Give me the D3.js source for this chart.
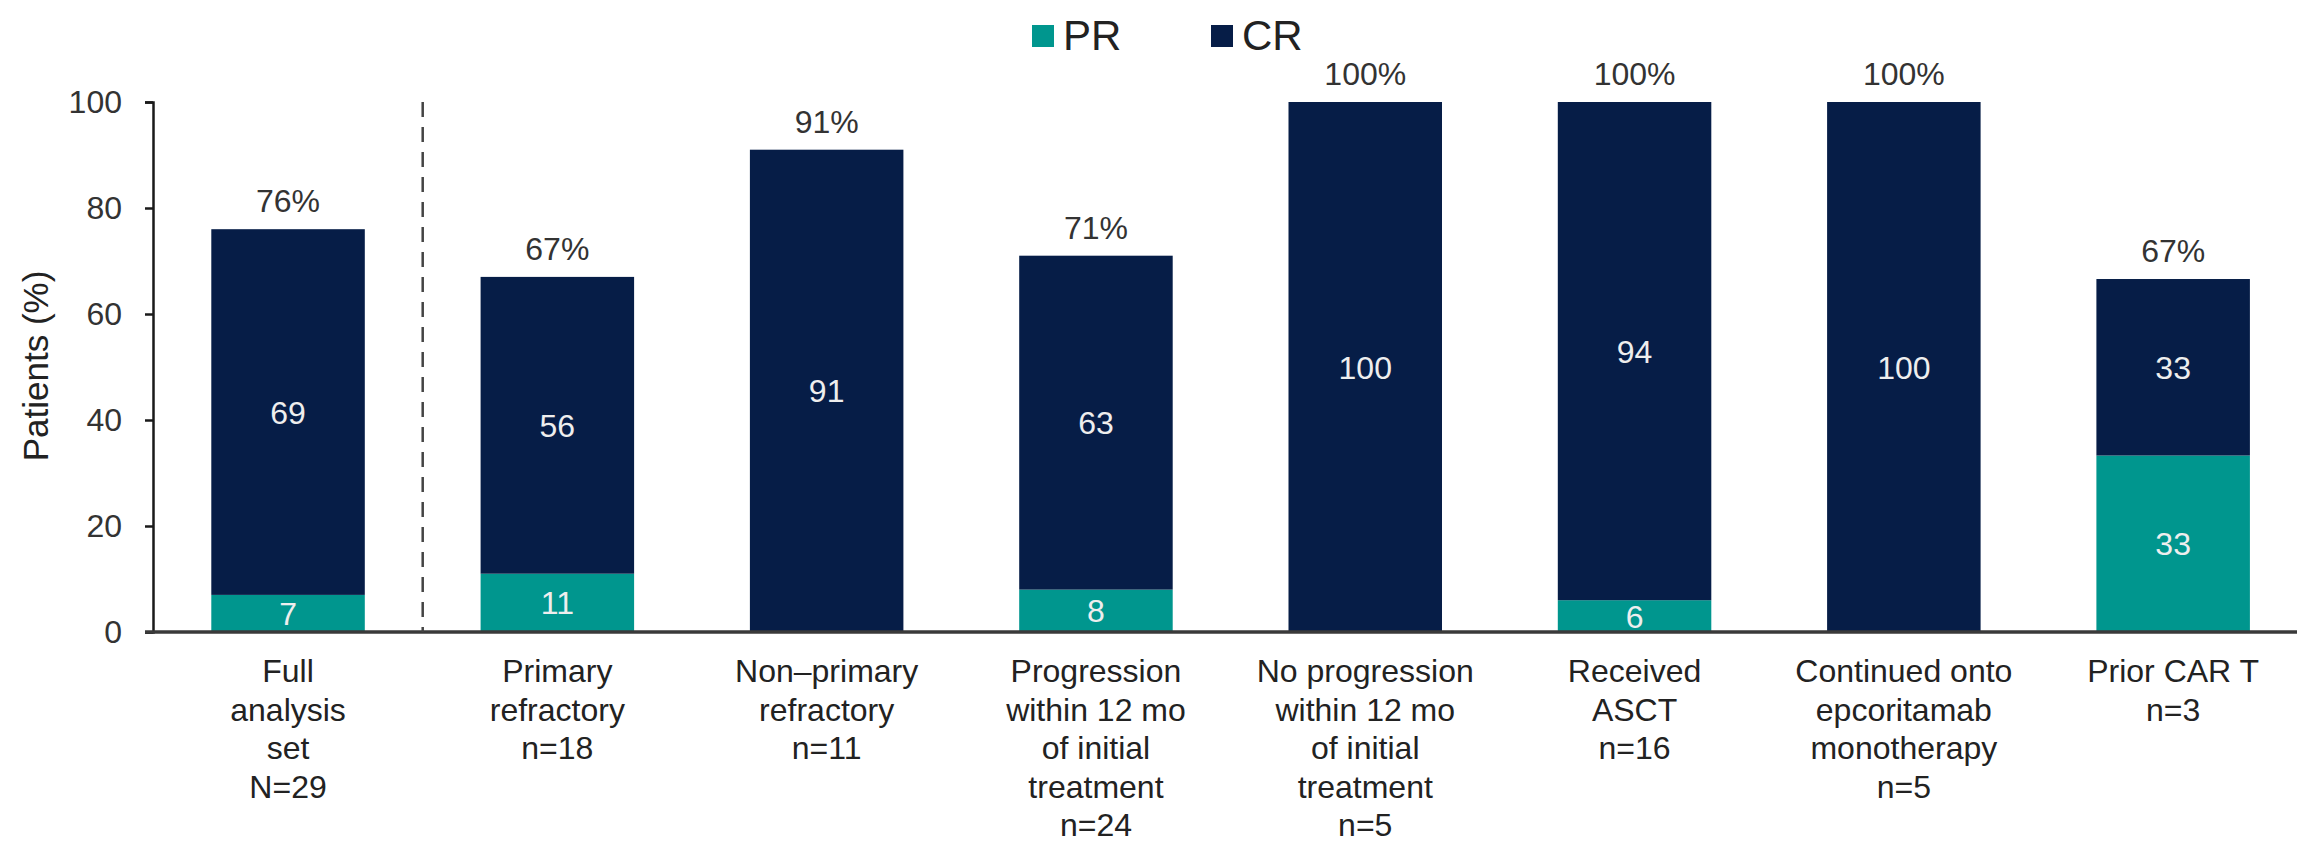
<!DOCTYPE html>
<html>
<head>
<meta charset="utf-8">
<script src="https://cdn.jsdelivr.net/npm/d3@7"></script>
<style>
  html, body { margin: 0; padding: 0; background: #ffffff; }
  svg { display: block; font-family: "Liberation Sans", Arial, sans-serif; }
</style>
</head>
<body>
<svg id="chart" width="2297" height="846"></svg>
<script>
// Response by subgroup: partial (PR) and complete (CR) response, % of patients
const categories = [
  "Full analysis set",
  "Primary refractory",
  "Non-primary refractory",
  "Progression within 12 mo",
  "No progression within 12 mo",
  "Received ASCT",
  "Continued onto epcoritamab",
  "Prior CAR T"
];
const categoryLines = [
  ["Full", "analysis", "set", "N=29"],
  ["Primary", "refractory", "n=18"],
  ["Non\u2013primary", "refractory", "n=11"],
  ["Progression", "within 12 mo", "of initial", "treatment", "n=24"],
  ["No progression", "within 12 mo", "of initial", "treatment", "n=5"],
  ["Received", "ASCT", "n=16"],
  ["Continued onto", "epcoritamab", "monotherapy", "n=5"],
  ["Prior CAR T", "n=3"]
];
const prValues = [7, 11, 0, 8, 0, 6, 0, 33.3];
const crValues = [69, 56, 91, 63, 100, 94, 100, 33.3];
const seriesNames = ["PR", "CR"];
const seriesColors = ["#00968e", "#061d47"];
const yTicks = [0, 20, 40, 60, 80, 100];

const svg = d3.select("#chart");
const fmt = d3.format(".0f");

const x = d3.scaleBand()
  .domain(categories)
  .range([153.4, 2307.8])
  .paddingInner(0.43)
  .paddingOuter(0.215);

const y = d3.scaleLinear().domain([0, 100]).range([632, 102]);

const rows = categories.map((c, i) => ({ cat: c, PR: prValues[i], CR: crValues[i] }));
const stacked = d3.stack().keys(seriesNames)(rows);

// Bars
const layer = svg.append("g").selectAll("g")
  .data(stacked)
  .join("g")
  .attr("fill", (d, i) => seriesColors[i]);

layer.selectAll("rect")
  .data(d => d.map(v => ({ v, cat: v.data.cat })))
  .join("rect")
  .attr("x", d => x(d.cat))
  .attr("width", x.bandwidth())
  .attr("y", d => y(d.v[1]))
  .attr("height", d => y(d.v[0]) - y(d.v[1]));

// Segment value labels
layer.selectAll("text")
  .data(d => d.map(v => ({ v, cat: v.data.cat, val: v[1] - v[0] })).filter(d => d.val > 0))
  .join("text")
  .attr("x", d => x(d.cat) + x.bandwidth() / 2)
  .attr("y", d => y((d.v[0] + d.v[1]) / 2))
  .attr("dy", "0.36em")
  .attr("text-anchor", "middle")
  .attr("fill", "#eeeeee")
  .style("font-size", "32px")
  .text(d => fmt(d.val));

// Totals above bars
svg.append("g").selectAll("text")
  .data(rows)
  .join("text")
  .attr("x", d => x(d.cat) + x.bandwidth() / 2)
  .attr("y", d => y(d.PR + d.CR) - 17)
  .attr("text-anchor", "middle")
  .attr("fill", "#333333")
  .style("font-size", "32px")
  .text(d => fmt(d.PR + d.CR) + "%");

// Y axis
const yAxis = svg.append("g")
  .attr("transform", "translate(153,0)")
  .call(d3.axisLeft(y).tickValues(yTicks).tickSize(8).tickPadding(23));
yAxis.select(".domain").attr("stroke", "#1a1a1a").attr("stroke-width", 2.5);
yAxis.selectAll(".tick line").attr("stroke", "#1a1a1a").attr("stroke-width", 2.5);
yAxis.selectAll(".tick text")
  .attr("fill", "#333333")
  .style("font-size", "32px")
  .style("font-family", "'Liberation Sans', Arial, sans-serif");

// X axis baseline
svg.append("line")
  .attr("x1", 145).attr("x2", 2297)
  .attr("y1", y(0)).attr("y2", y(0))
  .attr("stroke", "#3a3a3a")
  .attr("stroke-width", 3.5);

// Divider between the full set and the subgroups
const divX = x(categories[1]) - x.step() * x.paddingInner() / 2;
svg.append("line")
  .attr("x1", divX).attr("x2", divX)
  .attr("y1", y(100)).attr("y2", y(0))
  .attr("stroke", "#444444")
  .attr("stroke-width", 2.5)
  .attr("stroke-dasharray", "15,10");

// Category labels
const catG = svg.append("g").selectAll("text")
  .data(categories)
  .join("text")
  .attr("text-anchor", "middle")
  .attr("fill", "#222222")
  .style("font-size", "32px");
catG.each(function (c, i) {
  d3.select(this).selectAll("tspan")
    .data(categoryLines[i])
    .join("tspan")
    .attr("x", x(c) + x.bandwidth() / 2)
    .attr("y", (d, j) => 682 + j * 38.5)
    .text(d => d);
});

// Y axis title
svg.append("text")
  .attr("transform", "translate(48,366) rotate(-90)")
  .attr("text-anchor", "middle")
  .attr("fill", "#222222")
  .style("font-size", "35px")
  .text("Patients (%)");

// Legend
const legendX = [1032, 1211];
const legend = svg.append("g").selectAll("g")
  .data(seriesNames)
  .join("g")
  .attr("transform", (d, i) => `translate(${legendX[i]},0)`);
legend.append("rect")
  .attr("x", 0).attr("y", 25)
  .attr("width", 22).attr("height", 22)
  .attr("fill", (d, i) => seriesColors[i]);
legend.append("text")
  .attr("x", 31).attr("y", 50)
  .attr("fill", "#222222")
  .style("font-size", "42px")
  .text(d => d);
</script>
</body>
</html>
